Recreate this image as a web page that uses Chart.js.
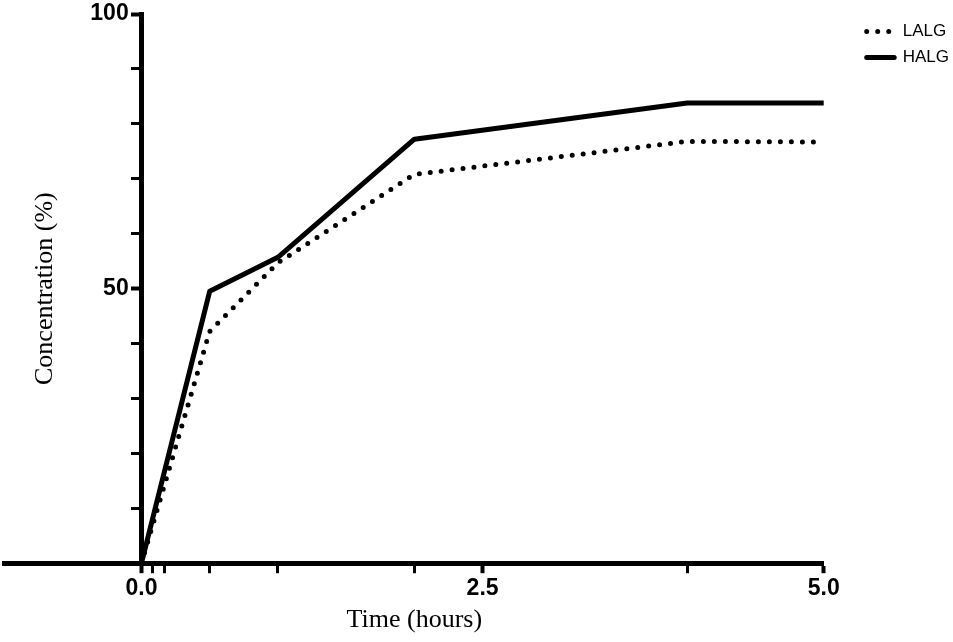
<!DOCTYPE html>
<html>
<head>
<meta charset="utf-8">
<title>Concentration vs time</title>
<script src="https://cdn.jsdelivr.net/npm/chart.js@4.4.1/dist/chart.umd.min.js"></script>
<style>
  html, body { margin: 0; padding: 0; background: #fff; }
  canvas { display: block; }
</style>
</head>
<body>
<canvas id="grafica" width="953" height="642"></canvas>
<script>
// values
const tiempos = [0, 0.5, 1, 2, 4, 5];
const lalg = [0, 42.2, 54.7, 70.8, 76.8, 76.7];
const halg = [0, 49.5, 55.7, 77.2, 83.8, 83.8];

// tick marks (hours) and which of them carry a label
const ticksX = [0, 0.083, 0.167, 0.5, 1, 2, 2.5, 4, 5];
const etiquetasX = [0, 2.5, 5];
const etiquetasY = [50, 100];

const numFont = { family: '"Liberation Sans", Arial, sans-serif', size: 23, weight: 'bold' };
const serifFont = { family: '"Liberation Serif", "Times New Roman", serif', size: 26, weight: 'normal' };

const toPoints = (ys) => tiempos.map((t, i) => ({ x: t, y: ys[i] }));

const data = {
  datasets: [
    {
      label: 'LALG',
      data: toPoints(lalg),
      borderColor: '#000',
      backgroundColor: '#000',
      borderWidth: 5,
      borderDash: [0, 11],
      borderCapStyle: 'round',
      borderJoinStyle: 'round',
      pointRadius: 0
    },
    {
      label: 'HALG',
      data: toPoints(halg),
      borderColor: '#000',
      backgroundColor: '#000',
      borderWidth: 5,
      borderCapStyle: 'round',
      borderJoinStyle: 'round',
      pointRadius: 0
    }
  ]
};

const options = {
  responsive: false,
  animation: false,
  events: [],
  layout: { padding: { left: 0, right: -6, top: 14, bottom: 0 } },
  scales: {
    x: {
      type: 'linear',
      position: 'bottom',
      min: -1,
      max: 5,
      afterBuildTicks: (scale) => { scale.ticks = ticksX.map(v => ({ value: v })); },
      ticks: {
        autoSkip: false,
        maxRotation: 0,
        padding: 2,
        color: '#000',
        font: numFont,
        callback: (v) => etiquetasX.includes(v) ? v.toFixed(1) : ''
      },
      grid: {
        drawOnChartArea: false,
        tickLength: 10,
        color: '#000',
        tickWidth: (ctx) => ctx.tick && etiquetasX.includes(ctx.tick.value) ? 4 : 3
      },
      border: { color: '#000', width: 5 },
      title: { display: true, text: 'Time (hours)', color: '#000', font: serifFont, padding: { top: 0, bottom: 6 } }
    },
    y: {
      type: 'linear',
      position: { x: 0 },
      min: 0,
      max: 100,
      // the label overhang should not push the plot down
      afterFit: (scale) => { scale.paddingTop = 0; scale.paddingBottom = 0; },
      ticks: {
        stepSize: 10,
        padding: 0,
        color: '#000',
        font: numFont,
        // axis sits inside the plot, so the gap to the line is kept with two spaces
        callback: (v) => etiquetasY.includes(v) ? v + '  ' : ''
      },
      grid: {
        drawOnChartArea: false,
        tickLength: 8,
        color: '#000',
        tickWidth: (ctx) => ctx.tick && etiquetasY.includes(ctx.tick.value) ? 4 : 3
      },
      border: { color: '#000', width: 5 }
    },
    // empty axis, only keeps the legend away from the plot
    margen: {
      type: 'linear',
      position: 'right',
      ticks: { display: false },
      grid: { display: false },
      border: { display: false },
      afterFit: (scale) => { scale.width = 34; }
    }
  },
  plugins: {
    legend: {
      position: 'right',
      align: 'start',
      fullSize: false,
      labels: {
        boxWidth: 27.5,
        boxHeight: 0,
        padding: 9,
        color: '#000',
        font: { family: '"Liberation Sans", Arial, sans-serif', size: 17 }
      }
    },
    title: {
      display: true,
      position: 'left',
      fullSize: false,
      text: 'Concentration (%)',
      color: '#000',
      font: serifFont,
      padding: { top: 29.4, bottom: -55.6 }
    },
    tooltip: { enabled: false }
  }
};

const chart = new Chart(document.getElementById('grafica').getContext('2d'), {
  type: 'line',
  data: data,
  options: options
});
</script>
</body>
</html>
